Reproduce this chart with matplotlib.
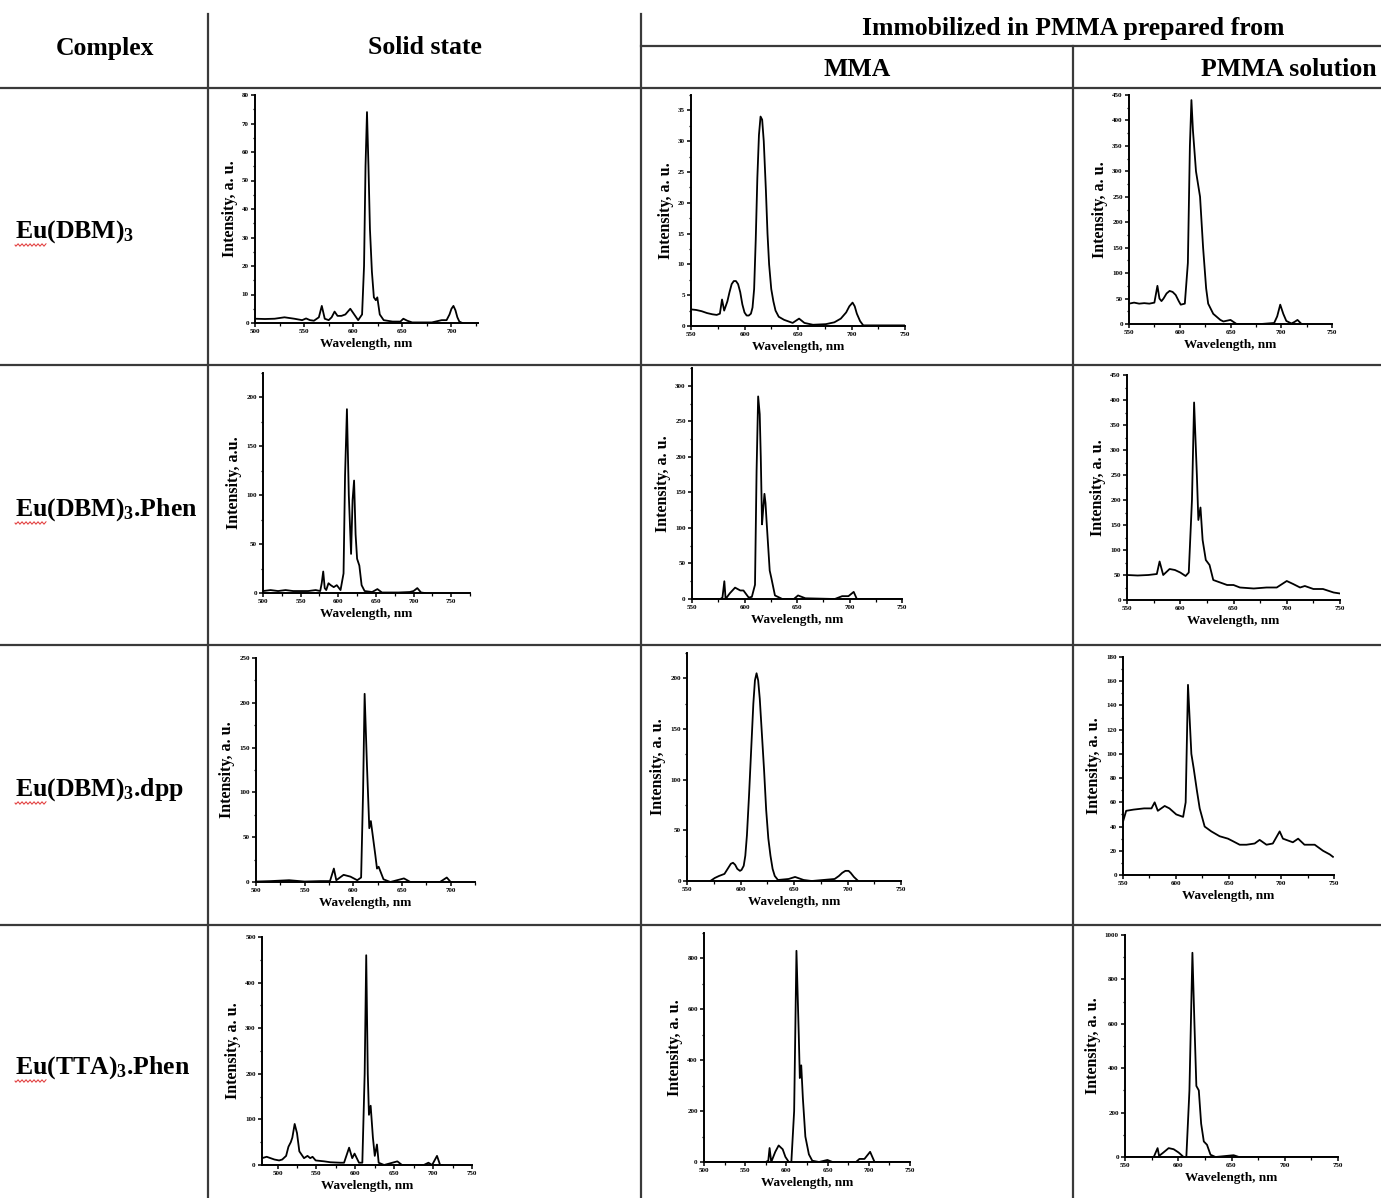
import numpy as np
import matplotlib.pyplot as plt
from matplotlib.ticker import MultipleLocator, AutoMinorLocator
from matplotlib.lines import Line2D

plt.rcParams['font.family'] = ['Liberation Serif', 'DejaVu Serif']
plt.rcParams['font.weight'] = 'bold'
plt.rcParams['axes.labelweight'] = 'bold'
plt.rcParams['mathtext.fontset'] = 'custom'
plt.rcParams['mathtext.rm'] = 'Liberation Serif:bold'
plt.rcParams['mathtext.it'] = 'Liberation Serif:bold'

# --- spectra (wavelength nm, intensity a.u.) ---
# Eu(DBM)3
dbm_solid_wl = [500, 510, 520, 530, 540, 548, 552, 556, 560, 565, 568, 571, 575, 578, 581, 584, 588, 592, 597, 601,
                605, 609, 611, 612.5, 614, 615.5, 617, 619, 621, 623, 624.5, 627, 631, 640, 648, 651, 655, 660, 680, 690,
                695, 698, 700, 702, 704, 706, 708, 711]
dbm_solid_int = [1.5, 1.4, 1.5, 2.0, 1.5, 1.0, 1.6, 1.0, 0.8, 2, 6, 1.5, 1, 2, 4, 2.5, 2.5, 3, 5, 3,
                 1, 3, 20, 55, 74, 55, 33, 18, 9, 8, 9, 3, 1, 0.5, 0.5, 1.5, 0.8, 0.2, 0.2, 1,
                 1, 3, 5, 6, 4.5, 2, 0.5, 0]
dbm_mma_wl = [550, 555, 560, 565, 570, 574, 577, 579, 581, 584, 586, 588, 590, 592, 594, 596, 598, 600, 602, 604,
              606, 607.5, 609, 610.5, 612, 613.5, 615, 616.5, 618, 620, 621.5, 623, 625, 627, 629, 632, 637, 645, 651, 656,
              664, 676, 684, 690, 695, 698, 701, 703, 705, 708, 711, 730, 750]
dbm_mma_int = [2.7, 2.6, 2.4, 2.1, 1.9, 1.8, 2.0, 4.3, 2.5, 4.0, 5.5, 6.8, 7.3, 7.3, 6.8, 5.5, 3.5, 2.2, 1.7, 1.7,
               2.0, 3.0, 6, 14, 24, 31, 34, 33.5, 30, 22, 15, 10, 6, 4, 2.5, 1.5, 1.0, 0.5, 1.2, 0.5,
               0.2, 0.3, 0.6, 1.2, 2.2, 3.2, 3.8, 3.2, 2.0, 0.8, 0.1, 0.1, 0.1]
dbm_pmma_wl = [550, 555, 560, 565, 570, 575, 578, 580, 582, 584, 587, 590, 593, 596, 599, 601, 605, 608, 610, 611.5,
               613, 616, 620, 623, 626, 628, 633, 640, 643, 650, 656, 680, 693, 696, 699, 702, 705, 710, 713, 716,
               720]
dbm_pmma_int = [40, 42, 40, 41, 40, 42, 75, 50, 45, 50, 60, 65, 63, 57, 45, 38, 40, 120, 350, 440,
                380, 300, 250, 150, 70, 40, 20, 8, 5, 8, 0, 0, 2, 15, 38, 20, 6, 1, 4, 8,
                0]

# Eu(DBM)3.Phen
phen_solid_wl = [500, 510, 520, 530, 540, 550, 560, 570, 576, 578, 580, 582, 584, 587, 590, 594, 598, 603, 607, 609,
                 611.5, 614, 617, 619, 621, 623, 625, 628, 631, 635, 645, 652, 658, 680, 695, 700, 705, 710, 715]
phen_solid_int = [2, 3, 2, 3, 2, 2, 2, 3, 2, 10, 22, 5, 3, 10, 8, 6, 8, 3, 20, 120,
                  188, 100, 40, 95, 115, 60, 35, 28, 8, 2, 1, 4, 0.5, 0.5, 1, 2, 5, 0.5, 0]
phen_mma_wl = [550, 560, 570, 577, 579, 580.8, 582, 586, 591, 596, 599, 604, 607, 610, 611.5, 613, 614.5, 615.5, 616.7, 618,
               619, 620, 621, 624, 625.5, 629, 636, 647, 651, 658, 686, 693, 699, 704, 707, 750]
phen_mma_int = [0, 0, 0, 0, 2, 25, 0, 8, 16, 12, 12, 2, 3, 20, 180, 285, 260, 200, 105, 130,
                148, 135, 110, 40, 30, 5, 0, 0, 5, 1, 0, 4, 4, 10, 0, 0]
phen_pmma_wl = [550, 560, 570, 578, 580.6, 584, 590, 595, 600, 605, 608, 611, 613, 615.6, 617, 619, 621, 624, 627.5, 631,
                637.5, 644, 650, 656, 669, 681, 690.6, 700, 706, 712.5, 717, 725, 734, 744, 750]
phen_pmma_int = [50, 49, 50, 52, 77, 50, 62, 60, 55, 48, 55, 200, 395, 250, 160, 185, 120, 80, 70, 40,
                 35, 30, 30, 25, 23, 25, 25, 38, 32, 25, 28, 22, 22, 15, 13]

# Eu(DBM)3.dpp
dpp_solid_wl = [500, 515, 534, 550, 566, 576, 580, 582.5, 590, 597, 604, 608, 610, 611.6, 614, 616.4, 618, 622.6, 624.3, 626,
                631, 638, 652, 658.6, 689, 696, 700]
dpp_solid_int = [0.5, 1, 2, 0.5, 1, 1, 15, 2, 8, 6, 2, 5, 100, 210, 130, 60, 68, 30, 15, 17,
                 3, 0, 4, 0, 0, 5, 0]
dpp_mma_wl = [571.8, 576, 580, 585, 588, 591, 593, 595, 597, 599.5, 601, 603, 604.5, 606, 608, 610, 612, 613.5, 615, 616.5,
              618, 620, 622, 624, 626, 628, 630, 632, 635, 645, 651, 659, 666.6, 688, 692, 695, 698, 701, 703, 706,
              710]
dpp_mma_int = [0, 3, 5, 7, 12, 17, 18, 16, 12, 10, 11, 15, 25, 45, 85, 130, 175, 198, 205, 198,
               180, 145, 110, 70, 42, 25, 12, 5, 1, 2, 4, 1, 0, 2, 5, 8, 10, 10, 8, 4,
               0]
dpp_pmma_wl = [550, 553, 560, 570, 577, 580, 583, 589.5, 594, 600.5, 607, 609.4, 611.6, 614.8, 617, 620, 622.7, 627.4, 633.7, 641.6,
               649.5, 654, 660.6, 667, 674.8, 679.5, 686, 692, 698.5, 701.6, 711, 716, 722, 731.7, 739.6, 746, 749]
dpp_pmma_int = [44, 53, 54, 55, 55, 60, 53, 57, 55, 50, 48, 60, 157, 100, 88, 70, 55, 40, 36, 32,
                30, 28, 25, 25, 26, 29, 25, 26, 36, 30, 27, 30, 25, 25, 20, 17, 15]

# Eu(TTA)3.Phen
tta_solid_wl = [480, 486, 496, 502, 506, 511, 514, 517, 519, 522, 525, 528, 534, 538.5, 542, 545, 549, 560, 568, 581,
                585.5, 592, 596, 599, 604.7, 609, 612, 614, 616, 617.5, 619.7, 622.6, 625, 627.8, 630, 637, 654, 660, 688, 694,
                698.7, 705, 709, 712]
tta_solid_int = [15, 18, 12, 10, 12, 20, 40, 50, 60, 90, 70, 30, 15, 20, 15, 18, 10, 8, 6, 5,
                 5, 38, 15, 25, 5, 5, 200, 460, 200, 110, 130, 60, 20, 45, 5, 0, 8, 0, 0, 5,
                 0, 20, 0, 0]
tta_mma_wl = [500, 540, 575, 578, 579.6, 581.6, 586.5, 590.6, 595.5, 598.8, 602.9, 606, 609.4, 612.2, 615, 616.3, 618, 620, 623, 627.3,
              631.4, 639.6, 649.8, 656, 684.5, 688.6, 694.7, 701.6, 707, 750]
tta_mma_int = [0, 0, 0, 5, 55, 0, 40, 65, 50, 20, 0, 0, 200, 830, 500, 330, 380, 250, 100, 30,
               5, 0, 8, 0, 0, 12, 12, 40, 0, 0]
tta_pmma_wl = [550, 565, 577, 580.6, 582, 586, 591, 595.7, 600.4, 605, 607.6, 610.5, 613.3, 615.2, 617, 619.3, 621.5, 624, 627, 630.3,
               635, 652, 657, 750]
tta_pmma_int = [0, 0, 0, 40, 5, 20, 40, 35, 20, 0, 0, 300, 920, 600, 320, 300, 150, 70, 55, 10,
                0, 8, 0, 0]

complexes = ["Eu(DBM)$_\\mathregular{3}$", "Eu(DBM)$_\\mathregular{3}$.Phen",
             "Eu(DBM)$_\\mathregular{3}$.dpp", "Eu(TTA)$_\\mathregular{3}$.Phen"]

W, H = 1381, 1198
fig = plt.figure(figsize=(W / 100, H / 100), dpi=100)
fig.patch.set_facecolor('white')


def fx(x):
    return x / W


def fy(y):
    return 1 - y / H


def hline(x0, x1, y, lw=1.6):
    fig.add_artist(Line2D([fx(x0), fx(x1)], [fy(y), fy(y)], color='#3a3a3a', lw=lw))


def vline(x, y0, y1, lw=1.6):
    fig.add_artist(Line2D([fx(x), fx(x)], [fy(y0), fy(y1)], color='#3a3a3a', lw=lw))


# --- table grid ---
hline(641, W, 46)
for y in (88, 365, 645, 925):
    hline(0, W, y)
vline(208, 14, H)
vline(641, 14, H)
vline(1073, 46, H)

# --- header ---
hs = 18.5
fig.text(fx(105), fy(48), "Complex", ha='center', va='center', fontsize=hs)
fig.text(fx(425), fy(48), "Solid state", ha='center', va='center', fontsize=hs)
fig.text(fx(1073), fy(28), "Immobilized in PMMA prepared from", ha='center', va='center', fontsize=hs)
fig.text(fx(857), fy(70), "MMA", ha='center', va='center', fontsize=hs)
fig.text(fx(1289), fy(70), "PMMA solution", ha='center', va='center', fontsize=hs)

row_y = [232, 510, 790, 1068]
for name, y in zip(complexes, row_y):
    fig.text(fx(15), fy(y), name, ha='left', va='center', fontsize=hs)
    # spell-check squiggle under "Eu"
    xs = np.linspace(15, 46, 40)
    ys = y + 13 + 1.2 * np.sin((xs - 15) / 4.0 * 2 * np.pi)
    fig.add_artist(Line2D(fx(xs), fy(ys), color='#e03030', lw=0.7))

# --- panels: (wl, int, box px [left, right, top, bottom], xlim, xticks, ylim, ystep, ylabel) ---
panels = [
    (dbm_solid_wl, dbm_solid_int, (255, 478, 95, 323), (500, 727), (500, 700), (0, 80), 10, "Intensity, a. u."),
    (dbm_mma_wl, dbm_mma_int, (691, 905, 95, 326), (550, 750), (550, 750), (0, 37.5), 5, "Intensity, a. u."),
    (dbm_pmma_wl, dbm_pmma_int, (1129, 1332, 95, 324), (550, 750), (550, 750), (0, 450), 50, "Intensity, a. u."),
    (phen_solid_wl, phen_solid_int, (263, 470, 373, 593), (500, 775), (500, 750), (0, 225), 50, "Intensity, a.u."),
    (phen_mma_wl, phen_mma_int, (692, 902, 368, 599), (550, 750), (550, 750), (0, 325), 50, "Intensity, a. u."),
    (phen_pmma_wl, phen_pmma_int, (1127, 1340, 375, 600), (550, 750), (550, 750), (0, 450), 50, "Intensity, a. u."),
    (dpp_solid_wl, dpp_solid_int, (256, 475, 658, 882), (500, 725), (500, 700), (0, 250), 50, "Intensity, a. u."),
    (dpp_mma_wl, dpp_mma_int, (687, 901, 653, 881), (550, 750), (550, 750), (0, 225), 50, "Intensity, a. u."),
    (dpp_pmma_wl, dpp_pmma_int, (1123, 1334, 657, 875), (550, 750), (550, 750), (0, 180), 20, "Intensity, a. u."),
    (tta_solid_wl, tta_solid_int, (262, 472, 937, 1165), (480, 750), (500, 750), (0, 500), 100, "Intensity, a. u."),
    (tta_mma_wl, tta_mma_int, (704, 910, 933, 1162), (500, 750), (500, 750), (0, 900), 200, "Intensity, a. u."),
    (tta_pmma_wl, tta_pmma_int, (1125, 1338, 935, 1157), (550, 750), (550, 750), (0, 1000), 200, "Intensity, a. u."),
]

for wl, inten, (l, r, t, b), xlim, xt, ylim, ystep, ylab in panels:
    ax = fig.add_axes([fx(l), fy(b), (r - l) / W, (b - t) / H])
    ax.plot(wl, inten, color='black', lw=1.3)
    ax.set_xlim(*xlim)
    ax.set_ylim(*ylim)
    ax.set_xticks(np.arange(xt[0], xt[1] + 1, 50))
    ax.yaxis.set_major_locator(MultipleLocator(ystep))
    ax.xaxis.set_minor_locator(AutoMinorLocator(2))
    ax.yaxis.set_minor_locator(AutoMinorLocator(2))
    for s in ('top', 'right'):
        ax.spines[s].set_visible(False)
    for s in ('left', 'bottom'):
        ax.spines[s].set_linewidth(1.4)
    ax.tick_params(which='major', direction='out', length=3, width=1.1, labelsize=5, pad=1.5)
    ax.tick_params(which='minor', direction='out', length=1.8, width=0.9)
    for lab in ax.get_xticklabels() + ax.get_yticklabels():
        lab.set_fontweight('bold')
    ax.set_xlabel("Wavelength, nm", fontsize=9.5, fontweight='bold', labelpad=3)
    ax.set_ylabel(ylab, fontsize=11.5, fontweight='bold', labelpad=3)

fig.savefig("out.png", dpi=100, facecolor='white')
